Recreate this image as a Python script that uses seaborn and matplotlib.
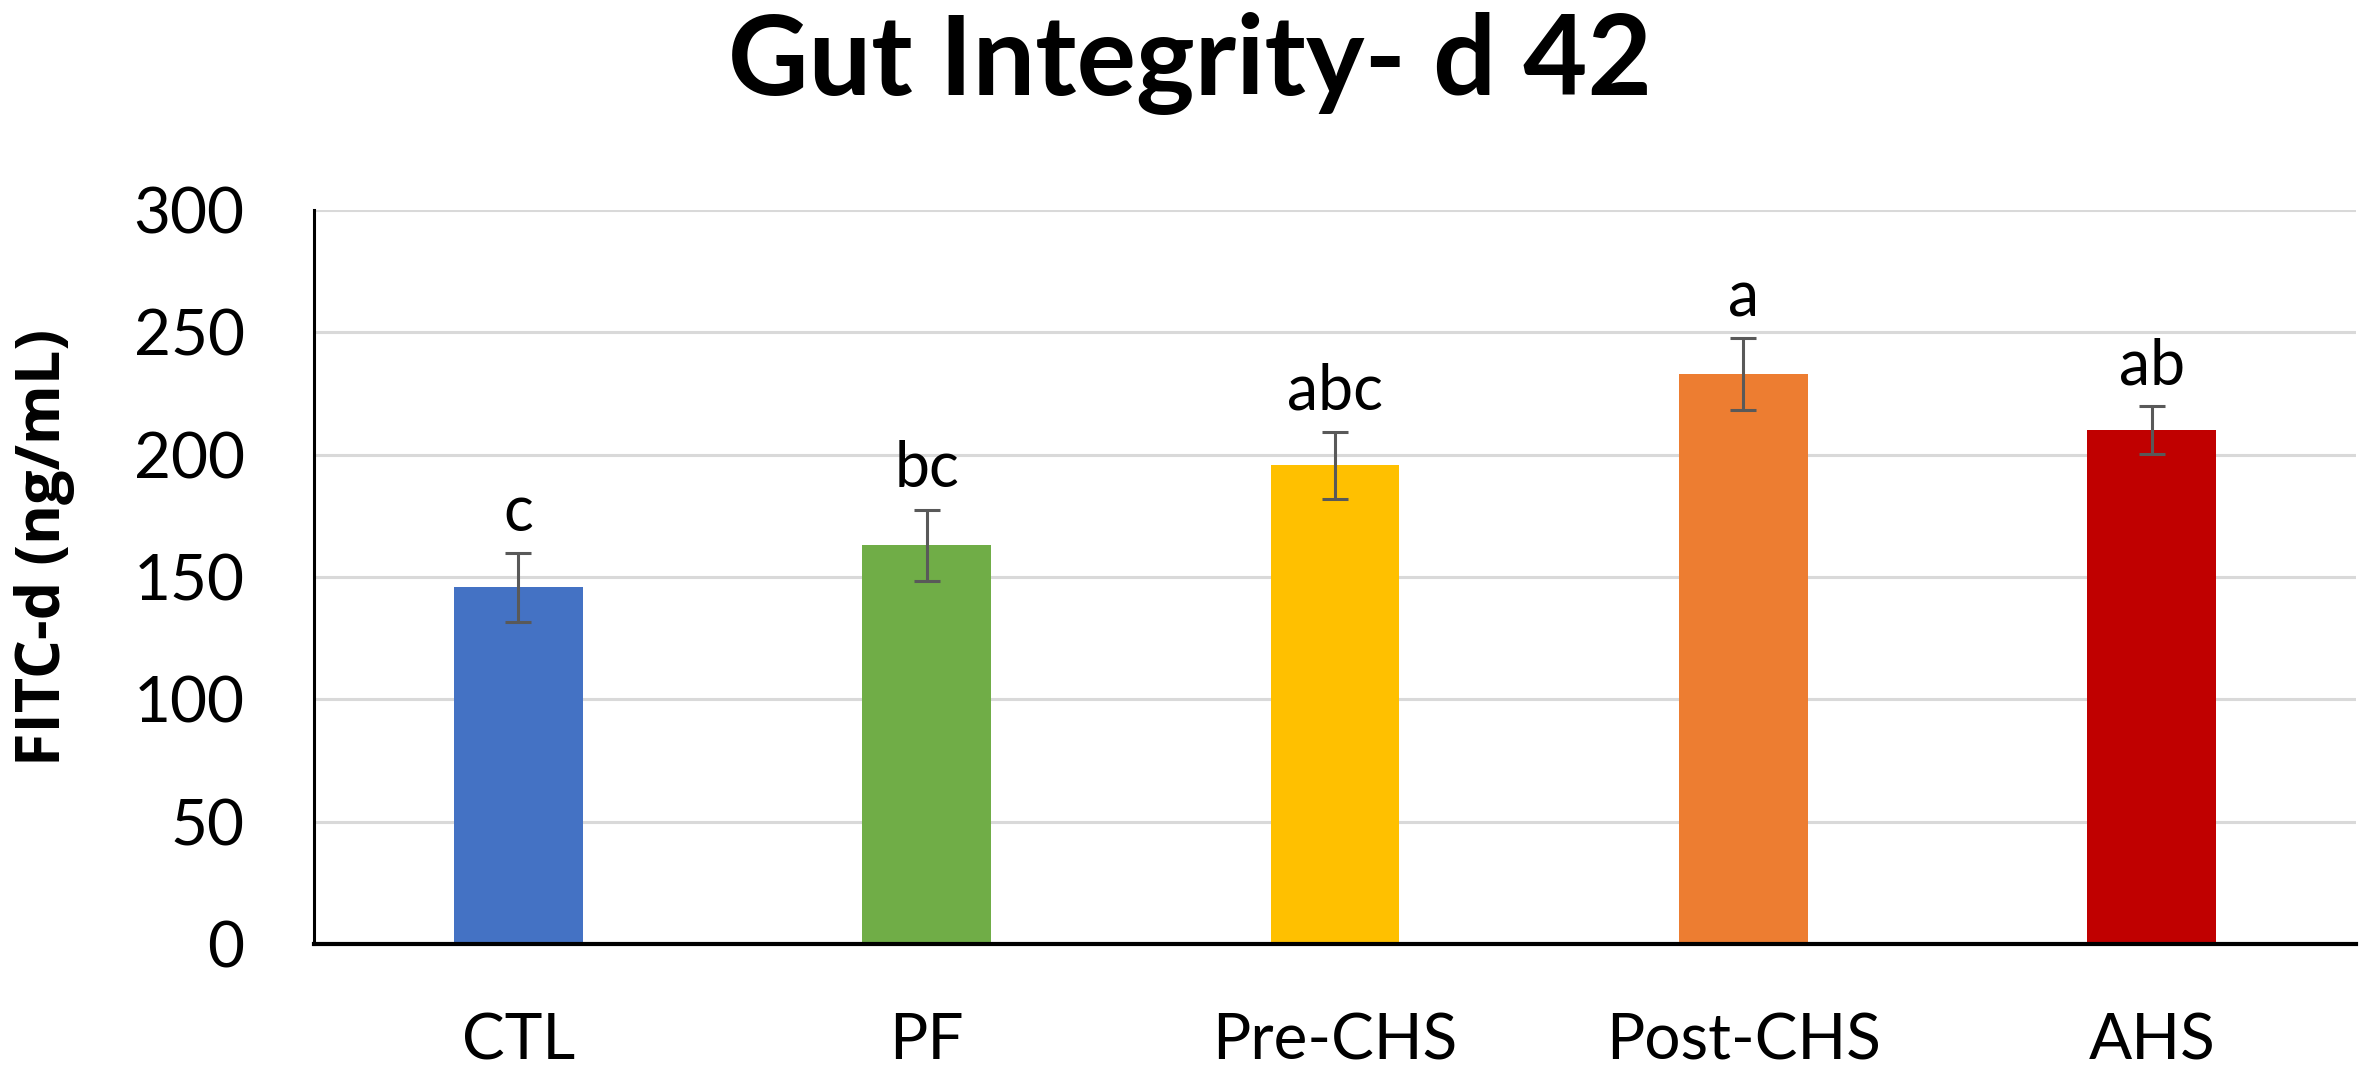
import matplotlib
matplotlib.use('Agg')
import matplotlib.pyplot as plt
import seaborn as sns
import pandas as pd

categories = ["CTL", "PF", "Pre-CHS", "Post-CHS", "AHS"]
means = [145.8, 163.0, 195.7, 232.8, 210.0]
sems = [14.0, 14.5, 13.7, 14.7, 9.8]
letters = ["c", "bc", "abc", "a", "ab"]
colors = ["#4472C4", "#70AD47", "#FFC000", "#ED7D31", "#C00000"]
yticks = [0, 50, 100, 150, 200, 250, 300]
title = "Gut Integrity- d 42"
ylabel = "FITC-d (ng/mL)"

sns.set_theme(style="white")
plt.rcParams['font.family'] = ['Lato', 'DejaVu Sans']
plt.rcParams['text.color'] = 'black'
plt.rcParams['axes.labelcolor'] = 'black'

W, H = 2366, 1067
fig = plt.figure(figsize=(W / 100, H / 100), dpi=100)
ax = fig.add_axes([314 / W, 1 - 944 / H, (2356 - 314) / W, 734 / H])

df = pd.DataFrame({"group": categories, "value": means})
sns.barplot(data=df, x="group", y="value", hue="group", palette=colors,
            width=0.315, saturation=1, linewidth=0, legend=False,
            errorbar=None, ax=ax)
ax.errorbar(range(len(categories)), means, yerr=sems, fmt='none',
            ecolor='#595959', elinewidth=2.2, capsize=9.5, capthick=2.2,
            zorder=5)

for i, (m, s, lab) in enumerate(zip(means, sems, letters)):
    ax.annotate(lab, (i, m + s), xytext=(0, 16), textcoords='offset points',
                ha='center', va='baseline', fontsize=45, color='black')

ax.set_ylim(0, 300)
ax.set_xlim(-0.5, len(categories) - 0.5)
ax.set_yticks(yticks)
ax.yaxis.grid(True, color='#d9d9d9', linewidth=2.2)
ax.xaxis.grid(False)
ax.set_axisbelow(True)
for sp in ['top', 'right']:
    ax.spines[sp].set_visible(False)
ax.spines['left'].set_color('black')
ax.spines['left'].set_linewidth(2.2)
ax.spines['bottom'].set_color('black')
ax.spines['bottom'].set_linewidth(3)
ax.tick_params(axis='both', length=0, labelsize=46, colors='black')
ax.tick_params(axis='x', pad=49)
ax.tick_params(axis='y', pad=50)
ax.set_xlabel('')
ax.set_ylabel(ylabel, fontsize=44, fontweight='bold', color='black',
              family=['Open Sans', 'DejaVu Sans'])
ax.yaxis.set_label_coords((75 - 314) / 2042, (944 - 547) / 734)

fig.text(1190 / W, 1 - 95 / H, title, ha='center', va='baseline',
         fontsize=80, fontweight='bold', color='black')

fig.savefig('out.png', dpi=100)
